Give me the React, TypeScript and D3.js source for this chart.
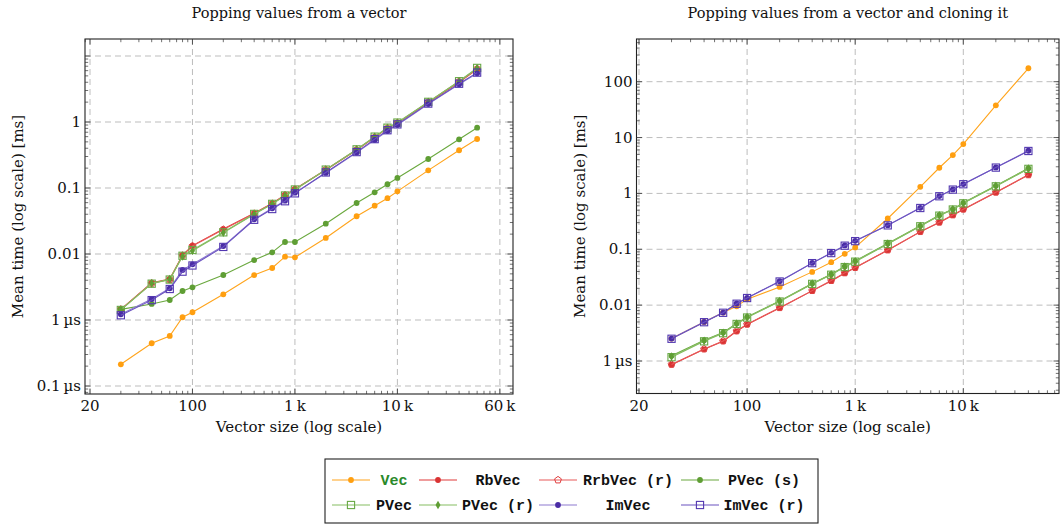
import React from 'react';
import * as d3 from 'd3';

// ---------- data ----------
const sizesLeft = [20, 40, 60, 80, 100, 200, 400, 600, 800, 1000, 2000, 4000, 6000, 8000, 10000, 20000, 40000, 60000];
const sizesRight = [20, 40, 60, 80, 100, 200, 400, 600, 800, 1000, 2000, 4000, 6000, 8000, 10000, 20000, 40000];

// mean times in ms — left chart (popping)
const vecLeft = [2.13e-4, 4.44e-4, 5.73e-4, 1.1e-3, 1.31e-3, 2.45e-3, 4.8e-3, 6.14e-3, 9.1e-3, 8.9e-3, 0.0175, 0.0373, 0.054, 0.07, 0.089, 0.185, 0.373, 0.553];
const rbVecLeft = [1.45e-3, 3.67e-3, 4.18e-3, 9.66e-3, 0.0134, 0.0239, 0.0414, 0.0586, 0.0783, 0.0966, 0.187, 0.377, 0.586, 0.8, 0.955, 1.96, 4.0, 6.3];
const rrbVecLeft = [1.45e-3, 3.6e-3, 4.1e-3, 9.5e-3, 0.0132, 0.0235, 0.041, 0.058, 0.078, 0.095, 0.19, 0.38, 0.59, 0.81, 0.97, 2.0, 4.1, 6.4];
const pvecSLeft = [1.45e-3, 1.75e-3, 2.01e-3, 2.75e-3, 3.13e-3, 4.81e-3, 8.1e-3, 0.0106, 0.0152, 0.0152, 0.0288, 0.0593, 0.086, 0.114, 0.142, 0.275, 0.547, 0.82];
const pvecLeft = [1.42e-3, 3.55e-3, 4.1e-3, 9.4e-3, 0.0115, 0.0213, 0.0405, 0.0575, 0.077, 0.095, 0.19, 0.385, 0.6, 0.82, 0.98, 2.02, 4.15, 6.6];
const pvecRLeft = [1.42e-3, 3.6e-3, 4.15e-3, 9.2e-3, 0.0112, 0.021, 0.04, 0.057, 0.076, 0.094, 0.188, 0.38, 0.595, 0.81, 0.97, 2.0, 4.1, 6.5];
const imVecLeft = [1.22e-3, 2.08e-3, 3.02e-3, 5.72e-3, 6.98e-3, 0.0132, 0.0336, 0.0492, 0.0643, 0.0849, 0.169, 0.345, 0.534, 0.73, 0.9, 1.87, 3.72, 5.47];
const imVecRLeft = [1.18e-3, 2.0e-3, 2.95e-3, 5.4e-3, 6.7e-3, 0.0128, 0.033, 0.048, 0.063, 0.083, 0.172, 0.35, 0.55, 0.75, 0.92, 1.9, 3.8, 5.6];

// mean times in ms — right chart (popping and cloning)
const vecRight = [2.52e-3, 5.0e-3, 7.36e-3, 9.55e-3, 0.0128, 0.0212, 0.0394, 0.0587, 0.0828, 0.108, 0.356, 1.31, 2.88, 4.86, 7.65, 37.8, 174];
const rbVecRight = [8.6e-4, 1.62e-3, 2.25e-3, 3.4e-3, 4.49e-3, 8.9e-3, 0.018, 0.0271, 0.0373, 0.0465, 0.0964, 0.205, 0.302, 0.408, 0.517, 1.04, 2.13];
const rrbVecRight = [8.7e-4, 1.64e-3, 2.28e-3, 3.45e-3, 4.55e-3, 9.0e-3, 0.0182, 0.0275, 0.0378, 0.047, 0.097, 0.207, 0.305, 0.412, 0.522, 1.05, 2.15];
const pvecSRight = [1.24e-3, 2.35e-3, 3.23e-3, 4.68e-3, 6.15e-3, 0.0119, 0.0244, 0.0358, 0.0492, 0.062, 0.127, 0.263, 0.408, 0.523, 0.679, 1.37, 2.81];
const pvecRight = [1.17e-3, 2.25e-3, 3.15e-3, 4.6e-3, 6.0e-3, 0.0116, 0.024, 0.035, 0.048, 0.06, 0.124, 0.258, 0.4, 0.515, 0.665, 1.34, 2.75];
const pvecRRight = [1.2e-3, 2.3e-3, 3.2e-3, 4.65e-3, 6.1e-3, 0.0118, 0.0242, 0.0355, 0.049, 0.061, 0.126, 0.26, 0.405, 0.52, 0.67, 1.36, 2.78];
const imVecRight = [2.52e-3, 5.0e-3, 7.36e-3, 0.0107, 0.0135, 0.0268, 0.057, 0.0862, 0.117, 0.1415, 0.27, 0.552, 0.895, 1.18, 1.47, 2.92, 5.8];
const imVecRRight = [2.5e-3, 4.95e-3, 7.3e-3, 0.0106, 0.0134, 0.0265, 0.0565, 0.0855, 0.116, 0.14, 0.268, 0.548, 0.89, 1.17, 1.46, 2.9, 5.75];

// ticks
const xTickValues = [10, 100, 1000, 10000, 100000];
const xTickLabels = ['20', '100', '1\u2009k', '10\u2009k', '60\u2009k'];
const yGridLeft = [1e-4, 1e-3, 0.01, 0.1, 1, 10];
const yTickValuesLeft = [1e-4, 1e-3, 0.01, 0.1, 1];
const yTickLabelsLeft = ['0.1\u2009\u00b5s', '1\u2009\u00b5s', '0.01', '0.1', '1'];
const yGridRight = [1e-3, 0.01, 0.1, 1, 10, 100];
const yTickValuesRight = [1e-3, 0.01, 0.1, 1, 10, 100];
const yTickLabelsRight = ['1\u2009\u00b5s', '0.01', '0.1', '1', '10', '100'];

// ---------- styles ----------
type Marker = 'dot' | 'pentagon' | 'square' | 'diamond';
interface Series {
  name: string;
  color: string;
  line: string;
  marker: Marker;
  left: number[];
  right: number[];
  textColor?: string;
}

const series: Series[] = [
  { name: 'Vec', color: '#ff9f10', line: '#ffa41c', marker: 'dot', left: vecLeft, right: vecRight, textColor: '#2a8a2a' },
  { name: 'RbVec', color: '#d93333', line: '#df3b3b', marker: 'dot', left: rbVecLeft, right: rbVecRight },
  { name: 'RrbVec (r)', color: '#e04040', line: '#e85a5a', marker: 'pentagon', left: rrbVecLeft, right: rrbVecRight },
  { name: 'PVec (s)', color: '#5f9e34', line: '#6aa83e', marker: 'dot', left: pvecSLeft, right: pvecSRight },
  { name: 'PVec', color: '#68a845', line: '#86bd62', marker: 'square', left: pvecLeft, right: pvecRight },
  { name: 'PVec (r)', color: '#5f9e34', line: '#86bd62', marker: 'diamond', left: pvecRLeft, right: pvecRRight },
  { name: 'ImVec', color: '#4a2ca5', line: '#8d7ad0', marker: 'dot', left: imVecLeft, right: imVecRight },
  { name: 'ImVec (r)', color: '#5237b0', line: '#6a52c0', marker: 'square', left: imVecRLeft, right: imVecRRight },
];

const SERIF = '"DejaVu Serif", serif';
const MONO = '"Liberation Mono", "DejaVu Sans Mono", monospace';

function MarkerShape({ kind, cx, cy, color }: { kind: Marker; cx: number; cy: number; color: string }) {
  if (kind === 'dot') return <circle cx={cx} cy={cy} r={2.9} fill={color} />;
  if (kind === 'square')
    return <rect x={cx - 3.6} y={cy - 3.6} width={7.2} height={7.2} fill="none" stroke={color} strokeWidth={1.1} />;
  if (kind === 'diamond') {
    const p = d3.symbol(d3.symbolDiamond, 22)() || '';
    return <path d={p} transform={`translate(${cx},${cy})`} fill={color} />;
  }
  const pts = d3.range(5).map((i) => {
    const a = -Math.PI / 2 + (i * 2 * Math.PI) / 5;
    return [Math.cos(a) * 3.6, Math.sin(a) * 3.6];
  });
  return (
    <path
      d={'M' + pts.map((p) => p.join(',')).join('L') + 'Z'}
      transform={`translate(${cx},${cy})`}
      fill="none"
      stroke={color}
      strokeWidth={1}
    />
  );
}

interface PanelCfg {
  id: string;
  title: string;
  box: [number, number, number, number]; // x0, x1, y0, y1
  xr: [number, number]; // px of 10 and 10000
  yd: [number, number];
  yr: [number, number];
  sizes: number[];
  which: 'left' | 'right';
  yGrid: number[];
  yTicks: number[];
  yLabels: string[];
  ylabelX: number;
}

function Panel({ cfg }: { cfg: PanelCfg }) {
  const [bx0, bx1, by0, by1] = cfg.box;
  const x = d3.scaleLog().domain([10, 10000]).range(cfg.xr);
  const y = d3.scaleLog().domain(cfg.yd).range(cfg.yr);
  const line = d3
    .line<[number, number]>()
    .x((d) => x(d[0]))
    .y((d) => y(d[1]));

  const inX = (v: number) => x(v) >= bx0 - 0.01 && x(v) <= bx1 + 0.01;
  const inY = (v: number) => y(v) >= by0 - 0.01 && y(v) <= by1 + 0.01;
  const xMinor: number[] = [];
  for (let d = 0; d <= 6; d++) for (let k = 2; k <= 9; k++) { const v = k * 10 ** d; if (inX(v)) xMinor.push(v); }
  const yMinor: number[] = [];
  for (let d = -6; d <= 4; d++) for (let k = 2; k <= 9; k++) { const v = k * 10 ** d; if (inY(v)) yMinor.push(v); }
  const xMajor = xTickValues.filter(inX);
  const yMajor = cfg.yGrid.filter(inY);
  const MAJ = 5.5, MIN = 3.2;
  const tickStroke = '#333';

  return (
    <g>
      <defs>
        <clipPath id={`clip-${cfg.id}`}>
          <rect x={bx0} y={by0} width={bx1 - bx0} height={by1 - by0} />
        </clipPath>
      </defs>
      <text x={(bx0 + bx1) / 2} y={18} textAnchor="middle" fontFamily={SERIF} fontSize={14.5} fill="#111">
        {cfg.title}
      </text>
      {/* grid */}
      {xMajor.map((v) => (
        <line key={'gx' + v} x1={x(v)} x2={x(v)} y1={by0} y2={by1} stroke="#bdbdbd" strokeWidth={1} strokeDasharray="6 4" />
      ))}
      {yMajor.map((v) => (
        <line key={'gy' + v} x1={bx0} x2={bx1} y1={y(v)} y2={y(v)} stroke="#bdbdbd" strokeWidth={1} strokeDasharray="6 4" />
      ))}
      {/* series */}
      <g clipPath={`url(#clip-${cfg.id})`}>
        {series.map((s) => {
          const vals = cfg.which === 'left' ? s.left : s.right;
          const pts: [number, number][] = cfg.sizes.map((n, i) => [n, vals[i]]);
          return (
            <g key={s.name}>
              <path d={line(pts) || ''} fill="none" stroke={s.line} strokeWidth={1.1} />
              {pts.map((p, i) => (
                <MarkerShape key={i} kind={s.marker} cx={x(p[0])} cy={y(p[1])} color={s.color} />
              ))}
            </g>
          );
        })}
      </g>
      {/* frame */}
      <rect x={bx0} y={by0} width={bx1 - bx0} height={by1 - by0} fill="none" stroke="#222" strokeWidth={1.1} />
      {/* ticks */}
      {xMinor.map((v) => (
        <g key={'xm' + v} stroke={tickStroke} strokeWidth={0.7}>
          <line x1={x(v)} x2={x(v)} y1={by1} y2={by1 - MIN} />
          <line x1={x(v)} x2={x(v)} y1={by0} y2={by0 + MIN} />
        </g>
      ))}
      {xMajor.map((v) => (
        <g key={'xM' + v} stroke={tickStroke} strokeWidth={0.8}>
          <line x1={x(v)} x2={x(v)} y1={by1} y2={by1 - MAJ} />
          <line x1={x(v)} x2={x(v)} y1={by0} y2={by0 + MAJ} />
        </g>
      ))}
      {yMinor.map((v) => (
        <g key={'ym' + v} stroke={tickStroke} strokeWidth={0.7}>
          <line x1={bx0} x2={bx0 + MIN} y1={y(v)} y2={y(v)} />
          <line x1={bx1} x2={bx1 - MIN} y1={y(v)} y2={y(v)} />
        </g>
      ))}
      {yMajor.map((v) => (
        <g key={'yM' + v} stroke={tickStroke} strokeWidth={0.8}>
          <line x1={bx0} x2={bx0 + MAJ} y1={y(v)} y2={y(v)} />
          <line x1={bx1} x2={bx1 - MAJ} y1={y(v)} y2={y(v)} />
        </g>
      ))}
      {/* tick labels */}
      {xTickValues.map((v, i) =>
        inX(v) ? (
          <text key={'xl' + v} x={x(v)} y={by1 + 17} textAnchor="middle" fontFamily={SERIF} fontSize={15} fill="#111">
            {xTickLabels[i]}
          </text>
        ) : null
      )}
      {cfg.yTicks.map((v, i) => (
        <text key={'yl' + v} x={bx0 - 4} y={y(v) + 5} textAnchor="end" fontFamily={SERIF} fontSize={15} fill="#111">
          {cfg.yLabels[i]}
        </text>
      ))}
      <text x={(bx0 + bx1) / 2} y={by1 + 38} textAnchor="middle" fontFamily={SERIF} fontSize={15} fill="#111">
        Vector size (log scale)
      </text>
      <text
        transform={`translate(${cfg.ylabelX},${(by0 + by1) / 2}) rotate(-90)`}
        textAnchor="middle"
        fontFamily={SERIF}
        fontSize={15}
        fill="#111"
      >
        Mean time (log scale) [ms]
      </text>
    </g>
  );
}

const leftCfg: PanelCfg = {
  id: 'left',
  title: 'Popping values from a vector',
  box: [85, 513, 39, 394],
  xr: [90, 397.4],
  yd: [1e-4, 10],
  yr: [386, 56],
  sizes: sizesLeft,
  which: 'left',
  yGrid: yGridLeft,
  yTicks: yTickValuesLeft,
  yLabels: yTickLabelsLeft,
  ylabelX: 23,
};

const rightCfg: PanelCfg = {
  id: 'right',
  title: 'Popping values from a vector and cloning it',
  box: [636.5, 1059, 39, 393.5],
  xr: [639, 963.3],
  yd: [1e-3, 100],
  yr: [361, 81.7],
  sizes: sizesRight,
  which: 'right',
  yGrid: yGridRight,
  yTicks: yTickValuesRight,
  yLabels: yTickLabelsRight,
  ylabelX: 585,
};

const legendRows = [series.slice(0, 4), series.slice(4, 8)];
const legendLineX = [332, 419, 539, 681];
const legendTextX = [394, 498, 628, 764];

function Legend() {
  const rowY = [480, 505];
  return (
    <g>
      <rect x={325} y={459} width={493} height={64} fill="white" stroke="#222" strokeWidth={1.1} />
      {legendRows.map((row, r) =>
        row.map((s, c) => (
          <g key={s.name}>
            <line x1={legendLineX[c]} x2={legendLineX[c] + 38} y1={rowY[r]} y2={rowY[r]} stroke={s.line} strokeWidth={1.1} />
            <MarkerShape kind={s.marker} cx={legendLineX[c] + 19} cy={rowY[r]} color={s.color} />
            <text
              x={legendTextX[c]}
              y={rowY[r] + 5}
              textAnchor="middle"
              fontFamily={MONO}
              fontWeight="bold"
              fontSize={15}
              fill={s.textColor || '#111'}
            >
              {s.name}
            </text>
          </g>
        ))
      )}
    </g>
  );
}

export default function App() {
  return (
    <div style={{ position: 'absolute', left: 0, top: 0, width: 1062, height: 524, background: 'white' }}>
      <svg width={1062} height={524} viewBox="0 0 1062 524" style={{ display: 'block' }}>
        <rect width={1062} height={524} fill="white" />
        <Panel cfg={leftCfg} />
        <Panel cfg={rightCfg} />
        <Legend />
      </svg>
    </div>
  );
}
